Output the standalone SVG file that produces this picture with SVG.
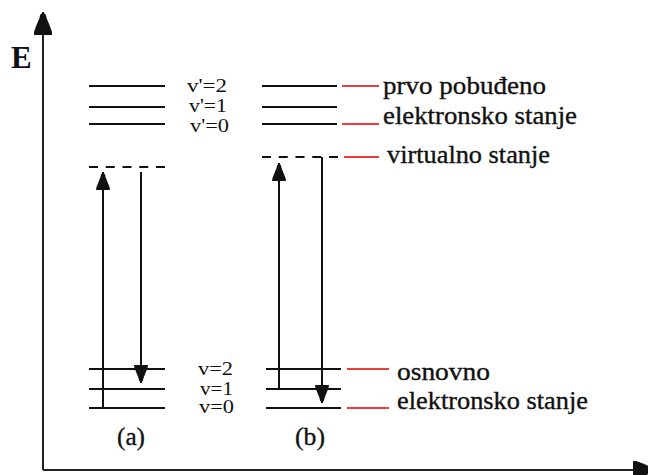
<svg xmlns="http://www.w3.org/2000/svg" width="648" height="475" viewBox="0 0 648 475">
  <defs>
    <style>
      .lvl { stroke: #111; stroke-width: 2; fill: none; }
      .dash { stroke: #111; stroke-width: 2; fill: none; stroke-dasharray: 9 7.75; }
      .red { stroke: #ee3b3b; stroke-width: 2; fill: none; }
      .ax { stroke: #222; stroke-width: 2; fill: none; }
      .arr { stroke: #111; stroke-width: 2; fill: none; }
      text { font-family: 'Liberation Serif', 'DejaVu Serif', serif; fill: #111; }
      .txt { font-size: 26px; stroke: #111; stroke-width: 0.35; }
      .vl { font-size: 18px; }
      .big { font-size: 31px; font-weight: bold; }
    </style>
    <marker id="head" markerUnits="userSpaceOnUse" viewBox="0 -8 18 16" refX="18" refY="0" markerWidth="18" markerHeight="16" orient="auto">
      <path d="M18,0 L15.5,-2 L13,-2.5 L8,-4.5 L3,-6.5 L0,-7 L0,7 L3,6.5 L8,4.5 L13,2.5 L15.5,2 Z" fill="#111"/>
    </marker>
    <marker id="axhead" markerUnits="userSpaceOnUse" viewBox="0 -9.5 23 19" refX="23" refY="0" markerWidth="23" markerHeight="19" orient="auto">
      <path d="M23,0 L20,-3 L17,-3.5 L10,-6.5 L3,-9 L0,-9 L0,9 L3,9 L10,6.5 L17,3.5 L20,3 Z" fill="#111"/>
    </marker>
  </defs>

  <g id="axes">
    <line class="ax" x1="43" y1="470" x2="43" y2="12" marker-end="url(#axhead)"/>
    <line class="ax" x1="43" y1="470" x2="656" y2="470" marker-end="url(#axhead)"/>
    <text class="big" x="11" y="68">E</text>
  </g>

  <g id="levels-a">
    <line class="lvl" x1="89" y1="86" x2="165" y2="86"/>
    <line class="lvl" x1="89" y1="107" x2="165" y2="107"/>
    <line class="lvl" x1="89" y1="124" x2="165" y2="124"/>
    <line class="dash" x1="89" y1="167" x2="165" y2="167"/>
    <line class="lvl" x1="89" y1="369" x2="165" y2="369"/>
    <line class="lvl" x1="89" y1="389" x2="165" y2="389"/>
    <line class="lvl" x1="89" y1="408" x2="165" y2="408"/>
    <text class="txt" x="117" y="445" textLength="28" lengthAdjust="spacingAndGlyphs">(a)</text>
  </g>

  <g id="levels-b">
    <line class="lvl" x1="262" y1="86" x2="337" y2="86"/>
    <line class="lvl" x1="262" y1="107" x2="337" y2="107"/>
    <line class="lvl" x1="262" y1="124" x2="337" y2="124"/>
    <line class="dash" x1="262" y1="157" x2="338" y2="157"/>
    <line class="lvl" x1="266" y1="369" x2="341" y2="369"/>
    <line class="lvl" x1="266" y1="389" x2="341" y2="389"/>
    <line class="lvl" x1="266" y1="408" x2="341" y2="408"/>
    <text class="txt" x="295" y="445" textLength="30" lengthAdjust="spacingAndGlyphs">(b)</text>
  </g>

  <g id="vib-labels">
    <text class="vl" x="187" y="92" textLength="40" lengthAdjust="spacingAndGlyphs">v'=2</text>
    <text class="vl" x="189" y="112" textLength="38" lengthAdjust="spacingAndGlyphs">v'=1</text>
    <text class="vl" x="190" y="132" textLength="39" lengthAdjust="spacingAndGlyphs">v'=0</text>
    <text class="vl" x="198" y="375" textLength="35" lengthAdjust="spacingAndGlyphs">v=2</text>
    <text class="vl" x="200" y="395" textLength="33" lengthAdjust="spacingAndGlyphs">v=1</text>
    <text class="vl" x="199" y="413" textLength="35" lengthAdjust="spacingAndGlyphs">v=0</text>
  </g>

  <g id="state-excited">
    <line class="red" x1="342" y1="86" x2="379" y2="86"/>
    <line class="red" x1="342" y1="124" x2="379" y2="124"/>
    <text class="txt" x="383" y="94" textLength="163" lengthAdjust="spacingAndGlyphs">prvo pobuđeno</text>
    <text class="txt" x="383" y="124" textLength="194" lengthAdjust="spacingAndGlyphs">elektronsko stanje</text>
  </g>

  <g id="state-virtual">
    <line class="red" x1="344" y1="157" x2="379" y2="157"/>
    <text class="txt" x="387" y="163" textLength="163" lengthAdjust="spacingAndGlyphs">virtualno stanje</text>
  </g>

  <g id="state-ground">
    <line class="red" x1="347" y1="369" x2="389" y2="369"/>
    <line class="red" x1="347" y1="408" x2="389" y2="408"/>
    <text class="txt" x="397" y="380" textLength="93" lengthAdjust="spacingAndGlyphs">osnovno</text>
    <text class="txt" x="397" y="409" textLength="191" lengthAdjust="spacingAndGlyphs">elektronsko stanje</text>
  </g>

  <g id="connectors">
    <line class="arr" x1="103" y1="408" x2="103" y2="172" marker-end="url(#head)"/>
    <line class="arr" x1="141" y1="172" x2="141" y2="383" marker-end="url(#head)"/>
    <line class="arr" x1="279" y1="389" x2="279" y2="163" marker-end="url(#head)"/>
    <line class="arr" x1="322" y1="157" x2="322" y2="403" marker-end="url(#head)"/>
  </g>
</svg>
